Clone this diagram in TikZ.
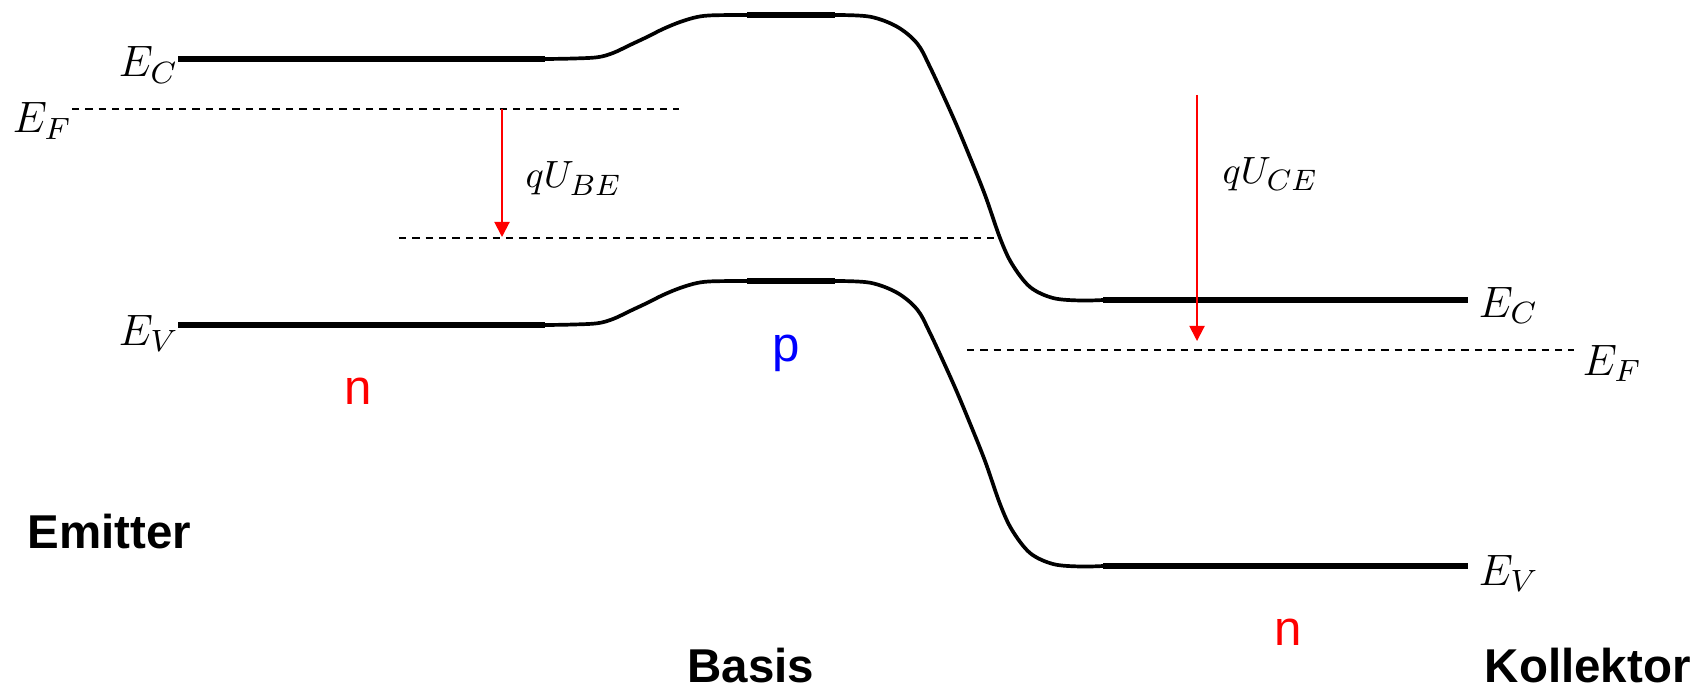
\RequirePackage{fix-cm}
\documentclass[tikz,border=0pt]{standalone}
\usepackage{fontspec}
\newfontfamily\arialfont{Liberation Sans}
\usetikzlibrary{arrows.meta}
\definecolor{pred}{RGB}{255,0,0}
\definecolor{pblue}{RGB}{0,0,255}
\tikzset{
  band/.style={line width=1.56pt, line cap=butt},
  bandcurve/.style={line width=1.05pt, line cap=butt, line join=round},
  fermi/.style={line width=0.45pt, dash pattern=on 2.1pt off 1.7pt},
  volt/.style={draw=pred, line width=0.57pt, -{Triangle[length=4.3pt,width=4.3pt]}},
  elabel/.style={inner sep=0pt, anchor=base west, font={\fontsize{12.5}{15}\selectfont}},
  vlabel/.style={inner sep=0pt, anchor=base west, font={\fontsize{10.8}{13}\selectfont}},
  region/.style={inner sep=0pt, anchor=base, font={\arialfont\fontsize{14}{17}\selectfont}},
  part/.style={inner sep=0pt, font={\arialfont\bfseries\fontsize{13.5}{16}\selectfont}},
}
\begin{document}
\begin{tikzpicture}[x=0.01cm, y=-0.01cm]
\useasboundingbox (0,0) rectangle (1704,688);
% conduction band (dy=0) and valence band (dy=266)
\foreach \dy in {0,266}{
  \begin{scope}[shift={(0,\dy)}]
    \draw[band] (178,59) -- (545,59);
    \draw[bandcurve] plot[smooth, tension=0.55] coordinates {(545,59) (570,58.6) (597,57.3) (613,53) (630,45) (647,37) (663,29) (680,22) (697,17) (713,15.3) (747,15)};
    \draw[band] (747,15) -- (835,15);
    \draw[bandcurve] plot[smooth, tension=0.55] coordinates {(835,15) (870,16.7) (897,26.7) (917,43.3) (930,67) (953,117) (969,155) (985,195) (1000,238) (1012,264) (1030,287) (1053,298) (1080,300.5) (1103,300)};
    \draw[band] (1103,300) -- (1468,300);
  \end{scope}
}
% Fermi levels
\coordinate (efa) at (72,109);
\coordinate (efb) at (679,109);
\coordinate (efc) at (399,238);
\coordinate (efd) at (998,238);
\coordinate (efe) at (967,350);
\coordinate (eff) at (1574,350);
\draw[fermi] (efa) -- (efb);
\draw[fermi] (efc) -- (efd);
\draw[fermi] (efe) -- (eff);
% voltage arrows
\coordinate (bes) at (502,109);
\coordinate (bee) at (502,237);
\coordinate (ces) at (1197,95);
\coordinate (cee) at (1197,341);
\draw[volt] (bes) -- (bee);
\draw[volt] (ces) -- (cee);
% labels
\node[elabel] (ecl) at (118,77) {$E_C$};
\node[elabel] (efl) at (12,133) {$E_F$};
\node[elabel] (evl) at (118,345) {$E_V$};
\node[elabel] (ecr) at (1478,317) {$E_C$};
\node[elabel] (efr) at (1582,375) {$E_F$};
\node[elabel] (evr) at (1478,585) {$E_V$};
\node[vlabel] (ube) at (525,188) {$qU_{\hbox{\fontsize{8.4}{10}\selectfont$BE$}}$};
\node[vlabel] (uce) at (1222,183) {$qU_{\hbox{\fontsize{8.4}{10}\selectfont$CE$}}$};
\node[region, text=pred] (n1) at (358,404) {n};
\node[region, text=pblue] (pp) at (786,361) {p};
\node[region, text=pred] (n2) at (1288,645) {n};
\node[part, anchor=base west] (em) at (27,548) {Emitter};
\node[part, anchor=base] (ba) at (751,682) {Basis};
\node[part, anchor=base west] (ko) at (1484,682) {Kollektor};
\end{tikzpicture}
\end{document}
